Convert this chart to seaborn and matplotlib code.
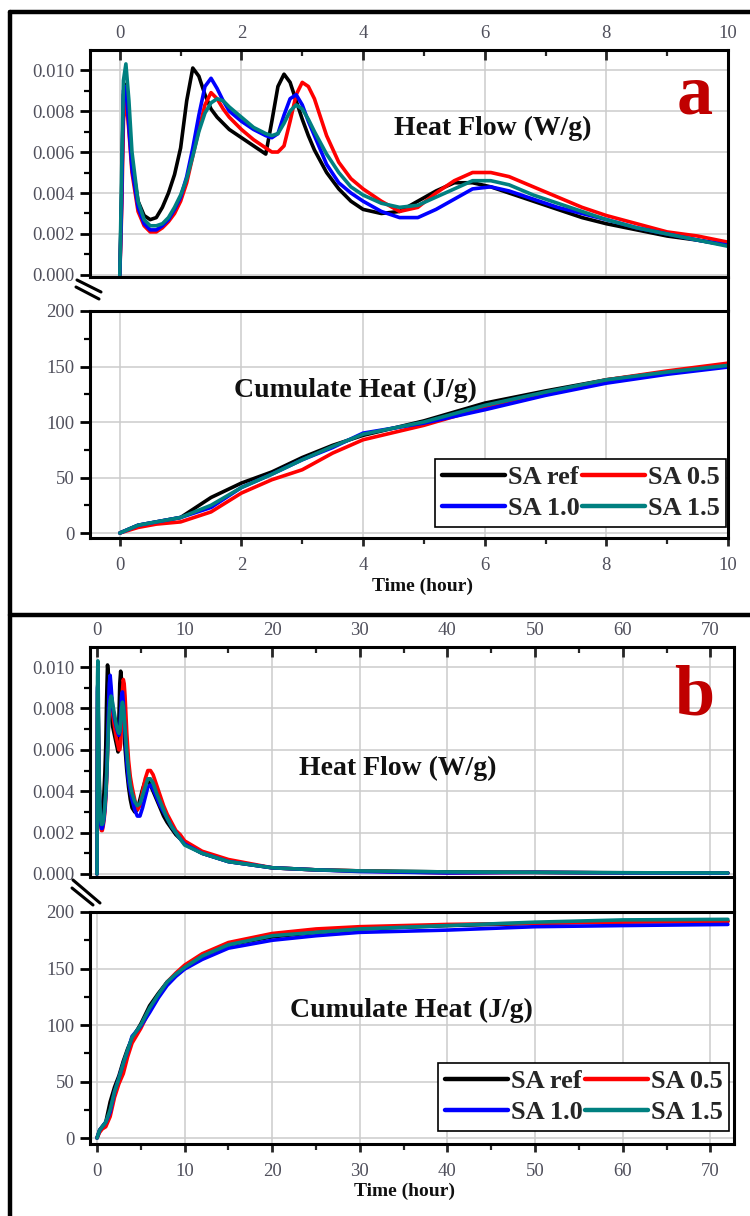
import numpy as np
import pandas as pd
import seaborn as sns
import matplotlib.pyplot as plt
from matplotlib.lines import Line2D
from matplotlib.ticker import MultipleLocator

# heat flow (W/g), common time grid (hour)
hf_time = [0, 0.03, 0.06, 0.1, 0.15, 0.2, 0.3, 0.4, 0.5, 0.6, 0.7, 0.8, 0.9, 1.0, 1.1, 1.2, 1.3, 1.4, 1.5, 1.6,
           1.7, 1.8, 2.0, 2.2, 2.4, 2.5, 2.6, 2.7, 2.8, 2.9, 3.0, 3.1, 3.2, 3.4, 3.6, 3.8, 4.0, 4.3, 4.6, 4.9,
           5.2, 5.5, 5.8, 6.1, 6.4, 6.8, 7.2, 7.6, 8.0, 8.5, 9.0, 9.5, 10, 12, 15, 20, 25, 30, 40, 50, 60, 72]
hf_ref = [0, 0.0040, 0.0088, 0.0093, 0.0075, 0.0055, 0.0036, 0.0029, 0.0027, 0.0028, 0.0033, 0.0040, 0.0049,
          0.0062, 0.0085, 0.0101, 0.0097, 0.0088, 0.0081, 0.0077, 0.0074, 0.0071, 0.0067, 0.0063, 0.0059,
          0.0075, 0.0092, 0.0098, 0.0094, 0.0085, 0.0076, 0.0068, 0.0061, 0.0050, 0.0042, 0.0036, 0.0032,
          0.0030, 0.0031, 0.0036, 0.0041, 0.0045, 0.0045, 0.0043, 0.0040, 0.0036, 0.0032, 0.0028, 0.0025,
          0.0022, 0.0019, 0.0017, 0.00145, 0.0010, 0.0006, 0.0003, 0.0002, 0.00015, 0.0001, 0.00008, 0.00006,
          0.00005]
hf_05 = [0, 0.0030, 0.0075, 0.0088, 0.0070, 0.0050, 0.0031, 0.0024, 0.0021, 0.0021, 0.0023, 0.0026, 0.0030,
         0.0036, 0.0045, 0.0058, 0.0071, 0.0083, 0.0089, 0.0086, 0.0081, 0.0077, 0.0071, 0.0066, 0.0062,
         0.0060, 0.0060, 0.0063, 0.0075, 0.0088, 0.0094, 0.0092, 0.0086, 0.0068, 0.0055, 0.0047, 0.0042,
         0.0036, 0.0031, 0.0033, 0.0040, 0.0046, 0.0050, 0.0050, 0.0048, 0.0043, 0.0038, 0.0033, 0.0029,
         0.0025, 0.0021, 0.0019, 0.0016, 0.0011, 0.0007, 0.0003, 0.0002, 0.00015, 0.00005, 0.00008, 0.00005,
         0.00004]
hf_10 = [0, 0.0035, 0.0090, 0.0092, 0.0072, 0.0052, 0.0033, 0.0025, 0.0022, 0.0022, 0.0024, 0.0027, 0.0032,
         0.0038, 0.0048, 0.0062, 0.0078, 0.0092, 0.0096, 0.0091, 0.0085, 0.0080, 0.0075, 0.0071, 0.0068,
         0.0067, 0.0069, 0.0078, 0.0086, 0.0088, 0.0083, 0.0075, 0.0068, 0.0054, 0.0045, 0.0040, 0.0036,
         0.0031, 0.0028, 0.0028, 0.0032, 0.0037, 0.0042, 0.0043, 0.0041, 0.0037, 0.0033, 0.0030, 0.0027,
         0.0023, 0.0020, 0.0017, 0.00145, 0.0010, 0.0006, 0.0003, 0.0002, 0.00012, 0.00005, 0.00008, 0.00005,
         0.00004]
hf_15 = [0, 0.0050, 0.0095, 0.0103, 0.0085, 0.0060, 0.0036, 0.0027, 0.0024, 0.0024, 0.0025, 0.0028, 0.0033,
         0.0039, 0.0047, 0.0058, 0.0070, 0.0079, 0.0084, 0.0086, 0.0085, 0.0082, 0.0077, 0.0072, 0.0069,
         0.0068, 0.0069, 0.0074, 0.0080, 0.0083, 0.0081, 0.0076, 0.0070, 0.0059, 0.0050, 0.0043, 0.0039,
         0.0035, 0.0033, 0.0034, 0.0038, 0.0042, 0.0046, 0.0046, 0.0044, 0.0039, 0.0035, 0.0031, 0.0027,
         0.0023, 0.0020, 0.0017, 0.0014, 0.0010, 0.0006, 0.0003, 0.0002, 0.00015, 0.0001, 0.00008, 0.00006,
         0.00005]

# cumulate heat (J/g)
ch_time = [0, 0.3, 0.6, 1.0, 1.5, 2.0, 2.5, 3.0, 3.5, 4.0, 5, 6, 7, 8, 9, 10, 12, 15, 20, 25, 30, 40, 50, 60, 72]
ch_ref = [0, 7, 10, 14, 32, 45, 55, 68, 79, 88, 101, 117, 128, 138, 145, 150, 160, 171, 178, 182, 185, 188, 190,
          192, 192]
ch_05 = [0, 5, 8, 10, 19, 36, 48, 57, 72, 84, 97, 113, 126, 138, 146, 153, 163, 173, 181, 185, 187, 189, 190,
         191, 191.5]
ch_10 = [0, 7, 10, 14, 23, 41, 53, 66, 77, 90, 99, 111, 124, 135, 143, 149.5, 158, 168, 175, 179, 182, 184, 187,
         188, 189]
ch_15 = [0, 7, 10, 14, 25, 41, 53, 66, 78, 89, 100, 115, 127, 138, 145, 151, 161, 171, 179, 182, 185, 188, 191,
         193, 193.5]

samples = ['SA ref', 'SA 0.5', 'SA 1.0', 'SA 1.5']
colors = ['#000000', '#ff0000', '#0000ff', '#008080']

W, H = 750, 1216
TICK_COLOR = '#50505c'


def fx(px):
    return px / W


def fy(py):
    return 1 - py / H


def place(left, top, right, bottom):
    return [fx(left), fy(bottom), fx(right) - fx(left), fy(top) - fy(bottom)]


def long_df(time, series, col):
    rows = []
    for name, vals in zip(samples, series):
        rows.append(pd.DataFrame({'time': time, col: vals, 'sample': name}))
    return pd.concat(rows, ignore_index=True)


def style_axes(ax, top_labels, xmajor, xminor, ymajor, yminor):
    ax.set_facecolor('white')
    for s in ax.spines.values():
        s.set_visible(True)
        s.set_linewidth(2.2)
        s.set_color('black')
    ax.grid(True, which='major', color='#cccccc', lw=1.1)
    ax.set_axisbelow(True)
    ax.xaxis.set_major_locator(MultipleLocator(xmajor))
    ax.xaxis.set_minor_locator(MultipleLocator(xminor))
    ax.yaxis.set_major_locator(MultipleLocator(ymajor))
    ax.yaxis.set_minor_locator(MultipleLocator(yminor))
    ax.tick_params(axis='y', which='both', left=True, right=False, direction='out',
                   labelsize=13.5, labelcolor=TICK_COLOR, color='black')
    ax.tick_params(axis='y', which='major', length=7, width=2, pad=4)
    ax.tick_params(axis='y', which='minor', length=4, width=1.6)
    if top_labels:
        ax.tick_params(axis='x', which='both', top=True, bottom=False, labeltop=True, labelbottom=False,
                       direction='in', labelsize=13.5, labelcolor=TICK_COLOR)
        ax.tick_params(axis='x', which='major', length=7, width=2, pad=6)
        ax.tick_params(axis='x', which='minor', length=4, width=1.6)
    else:
        ax.tick_params(axis='x', which='both', top=False, bottom=True, labeltop=False, labelbottom=True,
                       direction='out', labelsize=13.5, labelcolor=TICK_COLOR)
        ax.tick_params(axis='x', which='major', length=6, width=2, pad=8)
        ax.tick_params(axis='x', which='minor', length=4, width=1.6)
    ax.set_xlabel('')
    ax.set_ylabel('')


sns.set_theme(style='ticks')
plt.rcParams['font.family'] = ['Liberation Serif', 'DejaVu Serif']

df_hf = long_df(hf_time, [hf_ref, hf_05, hf_10, hf_15], 'flow')
df_ch = long_df(ch_time, [ch_ref, ch_05, ch_10, ch_15], 'heat')
palette = dict(zip(samples, colors))

fig = plt.figure(figsize=(W / 100, H / 100), dpi=100)

panels = [
    # (heat axes box, cumulate axes box, xlim, xmajor, xminor, heat ylim, cum ylim)
    ((90, 50, 728, 277), (90, 311, 728, 538), (-0.49, 10), 2, 1, (-0.0001, 0.01098), (-4.5, 200)),
    ((90, 647, 734, 877), (90, 912, 734, 1144), (-0.8, 72.7), 10, 5, (-0.000145, 0.01097), (-5.3, 200)),
]

cum_axes = []
for hbox, cbox, xlim, xmaj, xmin, hylim, cylim in panels:
    ax_h = fig.add_axes(place(*hbox))
    ax_c = fig.add_axes(place(*cbox))
    sns.lineplot(data=df_hf, x='time', y='flow', hue='sample', hue_order=samples, palette=palette,
                 estimator=None, sort=False, lw=2.6, legend=False, ax=ax_h)
    sns.lineplot(data=df_ch, x='time', y='heat', hue='sample', hue_order=samples, palette=palette,
                 estimator=None, sort=False, lw=2.6, legend=False, ax=ax_c)
    ax_h.set_xlim(*xlim)
    ax_c.set_xlim(*xlim)
    ax_h.set_ylim(*hylim)
    ax_c.set_ylim(*cylim)
    style_axes(ax_h, True, xmaj, xmin, 0.002, 0.001)
    style_axes(ax_c, False, xmaj, xmin, 50, 25)
    ax_h.yaxis.set_major_formatter(plt.FormatStrFormatter('%.3f'))
    cum_axes.append(ax_c)

    # right spine bridging the break
    x_r = hbox[2]
    fig.add_artist(Line2D([fx(x_r), fx(x_r)], [fy(hbox[3]), fy(cbox[1])], transform=fig.transFigure,
                          color='black', lw=2.2))

# break marks
for (x0, y0, x1, y1) in [(77, 280, 101, 292), (76, 287, 99, 299), (73, 880, 100, 903), (72, 888, 93, 905)]:
    fig.add_artist(Line2D([fx(x0), fx(x1)], [fy(y0), fy(y1)], transform=fig.transFigure, color='black', lw=2.2))

# outer frame lines
for (x0, y0, x1, y1) in [(10, 12, 750, 12), (10, 12, 10, 1216), (10, 615, 750, 615)]:
    fig.add_artist(Line2D([fx(x0), fx(x1)], [fy(y0), fy(y1)], transform=fig.transFigure, color='black', lw=3.2))

# annotations
bold = dict(fontweight='bold', ha='center', va='center', color='#111111')
fig.text(fx(493), fy(128), 'Heat Flow (W/g)', fontsize=20, **bold)
fig.text(fx(355), fy(390), 'Cumulate Heat (J/g)', fontsize=20, **bold)
fig.text(fx(423), fy(586), 'Time (hour)', fontsize=14, **bold)
fig.text(fx(398), fy(768), 'Heat Flow (W/g)', fontsize=20, **bold)
fig.text(fx(411), fy(1010), 'Cumulate Heat (J/g)', fontsize=20, **bold)
fig.text(fx(405), fy(1191), 'Time (hour)', fontsize=14, **bold)
fig.text(fx(695), fy(96), 'a', fontsize=52, fontweight='bold', ha='center', va='center', color='#c00000')
fig.text(fx(694), fy(697), 'b', fontsize=52, fontweight='bold', ha='center', va='center', color='#c00000')

# legend: rows "SA ref, SA 0.5" / "SA 1.0, SA 1.5" (matplotlib fills column-wise)
order = [0, 2, 1, 3]
handles = [Line2D([], [], color=colors[i], lw=3.2) for i in order]
labels = [samples[i] for i in order]
for ax_c, (lx, ly) in zip(cum_axes, [(435, 459), (438, 1063)]):
    leg = ax_c.legend(handles, labels, ncol=2, loc='upper left', bbox_to_anchor=(fx(lx), fy(ly)),
                      bbox_transform=fig.transFigure, prop=dict(weight='bold', size=19),
                      handlelength=2.4, handletextpad=0.1, columnspacing=0.1, labelspacing=0.3,
                      borderpad=0.25, borderaxespad=0, frameon=True, fancybox=False, framealpha=1)
    leg.get_frame().set_edgecolor('black')
    leg.get_frame().set_linewidth(1.2)

fig.savefig('out.png', dpi=100)
